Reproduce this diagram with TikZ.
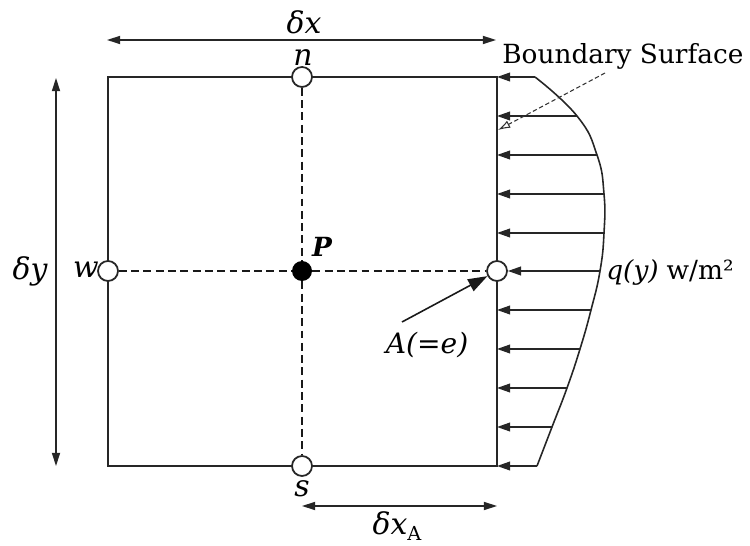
\documentclass[tikz,border=0pt]{standalone}
\usepackage{fontspec}
\usetikzlibrary{arrows.meta}
\newfontfamily\dvs{DejaVu Serif}
\newcommand\ilab[1]{{\dvs\itshape #1}}
\tikzset{
  wall/.style={line width=0.9pt, draw=black!85},
  hollow/.style={circle, draw=black!85, fill=white, line width=1pt, minimum size=0.4cm, inner sep=0pt},
  solidpt/.style={circle, fill=black, minimum size=0.4cm, inner sep=0pt},
  gridline/.style={line width=1.6pt, dash pattern=on 4.5pt off 2.5pt, draw=black!90},
  flux/.style={line width=0.9pt, draw=black!85, -{Triangle[length=7.5pt,width=5pt]}},
  dimarrow/.style={line width=0.9pt, draw=black!85, {Triangle[length=7.5pt,width=4.6pt]}-{Triangle[length=7.5pt,width=4.6pt]}},
  txt/.style={inner sep=0pt, font=\fontsize{17}{20}\selectfont},
}
\begin{document}
\begin{tikzpicture}[x=0.02cm,y=-0.02cm]
\useasboundingbox (0,0) rectangle (750,546);
% box
\coordinate (tl) at (108,77);
\coordinate (br) at (497,466);
\draw[wall] (tl) rectangle (br);
% grid nodes
\node[hollow] (n) at (302,77) {};
\node[hollow] (s) at (302,466) {};
\node[hollow] (w) at (108,271) {};
\node[hollow] (e) at (497,271) {};
\node[solidpt] (P) at (302,271) {};
\draw[gridline] (w) -- (P) -- (e);
\draw[gridline] (n) -- (P) -- (s);
% labels of nodes
\node[txt] (ln) at (303,58) {\ilab{n}};
\node[txt] (ls) at (302,489) {\ilab{s}};
\node[txt] (lw) at (86,270) {\ilab{w}};
\node[txt, font=\fontsize{15}{17}\selectfont] (lP) at (322,247) {{\dvs\bfseries\itshape P}};
% dimension arrows
\coordinate (dxa) at (107,40);
\coordinate (dxb) at (496,40);
\draw[dimarrow] (dxa) -- (dxb);
\node[txt] (ldx) at (304,22) {\ilab{δx}};
\coordinate (dya) at (56,78);
\coordinate (dyb) at (56,466);
\draw[dimarrow] (dya) -- (dyb);
\node[txt] (ldy) at (30,271) {\ilab{δy}};
\coordinate (dxAa) at (302,506);
\coordinate (dxAb) at (497,506);
\draw[dimarrow] (dxAa) -- (dxAb);
\node[txt] (ldxA) at (397,526) {\ilab{δx}\raisebox{-0.45ex}{\fontsize{11}{13}\selectfont\dvs A}};
% heat flux profile
\foreach \i/\y/\cx in {0/77/535, 1/116/577, 2/155/597, 3/194/604, 4/233/604, 5/271/600, 6/310/591, 7/349/580, 8/388/567, 9/427/552, 10/466/537} {
  \coordinate (c\i) at (\cx,\y);
  \coordinate (b\i) at (497,\y);
}
\draw[wall] plot[smooth, tension=0.8] coordinates {(c0) (c1) (c2) (c3) (c4) (c5) (c6) (c7) (c8) (c9) (c10)};
\foreach \i in {0,1,2,3,4,6,7,8,9,10} { \draw[flux] (c\i) -- (b\i); }
\draw[flux] (c5) -- (e);
\node[txt, anchor=west, font=\fontsize{15}{18}\selectfont] (lq) at (606,272) {\ilab{q(y)} {\dvs w/m²}};
% boundary surface
\node[inner sep=0pt, anchor=base west, font=\fontsize{15}{18}\selectfont] (lbs) at (502,64) {{\dvs Boundary Surface}};
\coordinate (bsa) at (605,73);
\coordinate (bsb) at (498,130);
\draw[line width=0.6pt, draw=black!80, dash pattern=on 2.5pt off 1.5pt, -{Latex[open,length=7pt,width=4.5pt]}] (bsa) -- (bsb);
% A(=e)
\node[txt, font=\fontsize{16}{19}\selectfont] (lA) at (427,345) {\ilab{A(=e)}};
\coordinate (Aa) at (402,322);
\draw[line width=0.9pt, draw=black!90, -{Triangle[length=11pt,width=7.5pt]}] (Aa) -- (e);
\end{tikzpicture}
\end{document}
